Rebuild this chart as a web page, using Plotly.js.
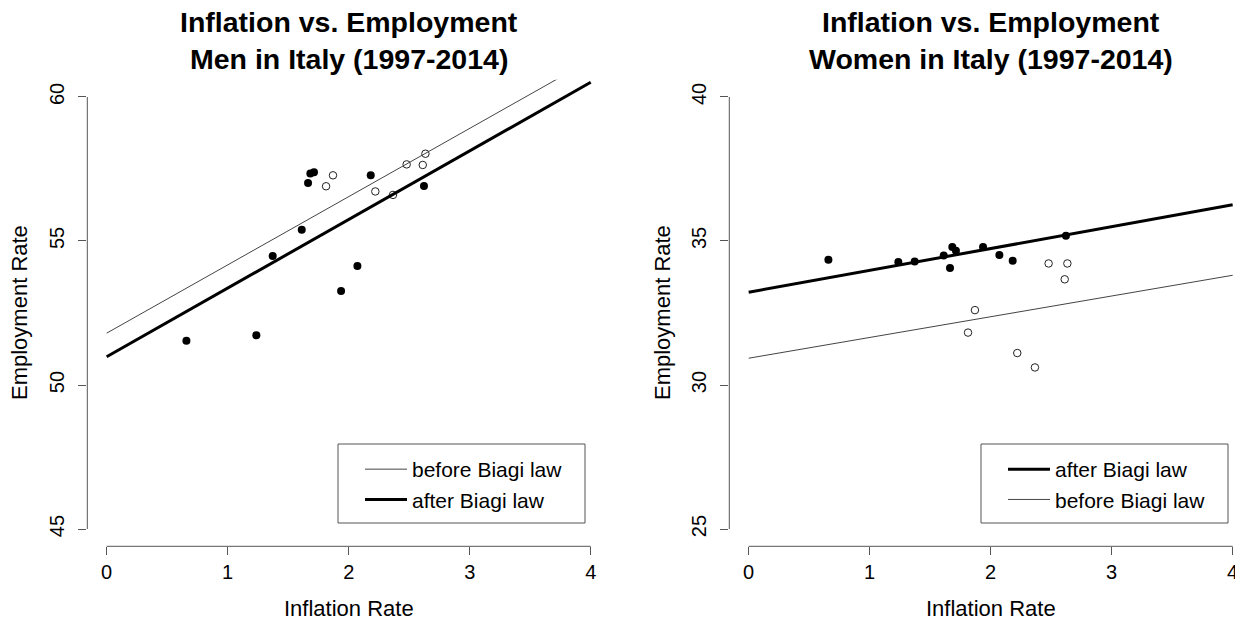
<!DOCTYPE html>
<html>
<head>
<meta charset="utf-8">
<script src="https://cdn.plot.ly/plotly-3.0.1.min.js"></script>
<style>html,body{margin:0;padding:0;background:#fff;}#chart{width:1235px;height:620px;}</style>
</head>
<body>
<div id="chart"></div>
<script>
// ---- data ----
const xTicks = [0, 1, 2, 3, 4];
const menYTicks = [45, 50, 55, 60];
const womenYTicks = [25, 30, 35, 40];

// inflation rate, before Biagi law (1997-2003) and after (2004-2014)
const inflBefore = [1.813, 1.870, 2.220, 2.366, 2.479, 2.612, 2.634];
const inflAfter  = [0.659, 1.237, 1.372, 1.612, 1.664, 1.683, 1.713, 1.937, 2.072, 2.182, 2.622];

// employment rate, men
const menBefore = [56.90, 57.28, 56.72, 56.60, 57.66, 57.64, 58.03];
const menAfter  = [51.54, 51.73, 54.48, 55.39, 57.01, 57.34, 57.39, 53.26, 54.13, 57.28, 56.91];

// employment rate, women
const womenBefore = [31.82, 32.60, 31.11, 30.61, 34.22, 33.67, 34.22];
const womenAfter  = [34.35, 34.27, 34.29, 34.50, 34.06, 34.79, 34.66, 34.79, 34.51, 34.31, 35.18];

// fitted lines [intercept, slope]
const menBeforeFit   = [51.80, 2.370];
const menAfterFit    = [50.98, 2.383];
const womenAfterFit  = [33.22, 0.759];
const womenBeforeFit = [30.93, 0.720];

const legendLabels = ['before Biagi law', 'after Biagi law'];
const titleLine1 = 'Inflation vs. Employment';
const menTitle = 'Men in Italy (1997-2014)';
const womenTitle = 'Women in Italy (1997-2014)';
const xLabel = 'Inflation Rate';
const yLabel = 'Employment Rate';

// ---- build ----
const FONT = 'Liberation Sans, Arial, Helvetica, sans-serif';
const lineX = [xTicks[0], xTicks[xTicks.length - 1]];
function fitY(fit) { return lineX.map(x => fit[0] + fit[1] * x); }

function pts(x, y, xa, ya, open) {
  return {
    type: 'scatter', mode: 'markers', x: x, y: y, xaxis: xa, yaxis: ya,
    showlegend: false, hoverinfo: 'x+y',
    marker: open
      ? {symbol: 'circle-open', size: 7.5, color: '#222', line: {width: 1, color: '#222'}}
      : {symbol: 'circle', size: 8, color: '#000', line: {width: 0}}
  };
}
function fitLine(fit, xa, ya, thick, name, legend) {
  return {
    type: 'scatter', mode: 'lines', x: lineX, y: fitY(fit), xaxis: xa, yaxis: ya,
    name: name, legend: legend, hoverinfo: 'skip',
    line: thick ? {color: '#000', width: 3} : {color: '#444', width: 1}
  };
}

const traces = [
  pts(inflBefore, menBefore, 'x', 'y', true),
  pts(inflAfter, menAfter, 'x', 'y', false),
  fitLine(menBeforeFit, 'x', 'y', false, legendLabels[0], 'legend'),
  fitLine(menAfterFit, 'x', 'y', true, legendLabels[1], 'legend'),
  pts(inflBefore, womenBefore, 'x2', 'y2', true),
  pts(inflAfter, womenAfter, 'x2', 'y2', false),
  fitLine(womenAfterFit, 'x2', 'y2', true, legendLabels[1], 'legend2'),
  fitLine(womenBeforeFit, 'x2', 'y2', false, legendLabels[0], 'legend2')
];

const W = 1235, H = 620;
const px = v => v / W, py = v => 1 - v / H;

const tickFont = {family: FONT, size: 20, color: '#000'};
function xAxis(domain, range) {
  return {
    domain: domain, range: range, tickvals: xTicks, ticktext: xTicks.map(String),
    ticks: 'outside', ticklen: 8, tickwidth: 1, tickcolor: '#555',
    showline: false, showgrid: false, zeroline: false, tickfont: tickFont,
    ticklabelstandoff: 0, ticklabeloverflow: 'allow', fixedrange: true
  };
}
function yAxis(domain, range, anchor, ticks) {
  return {
    domain: domain, range: range, tickvals: ticks, ticktext: ticks.map(String), anchor: anchor,
    ticks: 'outside', ticklen: 8, tickwidth: 1, tickcolor: '#555', tickangle: -90,
    showline: false, showgrid: false, zeroline: false, tickfont: tickFont,
    ticklabelstandoff: 6, ticklabeloverflow: 'allow', fixedrange: true
  };
}

const yDom = [1 - 546.3 / H, 1 - 79.7 / H];
const axisLineStyle = {color: '#555', width: 1};
function axisShapes(xa, ya, yt) {
  return [
    {type: 'line', xref: xa, yref: ya + ' domain', x0: xTicks[0], x1: xTicks[xTicks.length - 1], y0: 0, y1: 0, line: axisLineStyle},
    {type: 'line', xref: xa + ' domain', yref: ya, x0: 0, x1: 0, y0: yt[0], y1: yt[yt.length - 1], line: axisLineStyle}
  ];
}
function legendBox(x0, x1, y0, y1) {
  return {type: 'rect', xref: 'paper', yref: 'paper', x0: px(x0), x1: px(x1), y0: py(y1), y1: py(y0),
          line: {color: '#555', width: 1}, fillcolor: 'rgba(0,0,0,0)'};
}

const leftCx = (87.3 + 610.1) / 2, rightCx = (729.3 + 1252.1) / 2;
function ann(text, x, y, size, bold, angle) {
  return {text: bold ? '<b>' + text + '</b>' : text, xref: 'paper', yref: 'paper', x: px(x), y: py(y),
          xanchor: 'center', yanchor: 'middle', showarrow: false, textangle: angle || 0,
          font: {family: FONT, size: size, color: '#000'}};
}

const legendCommon = {
  bgcolor: 'rgba(0,0,0,0)', borderwidth: 0, font: {family: FONT, size: 21, color: '#000'},
  xanchor: 'left', yanchor: 'top', itemwidth: 42, tracegroupgap: 0, traceorder: 'normal'
};

const TS = 28.5;
const layout = {
  width: W, height: H, margin: {l: 0, r: 0, t: 0, b: 0},
  paper_bgcolor: '#fff', plot_bgcolor: '#fff', showlegend: true,
  xaxis: xAxis([87.3 / W, 610.1 / W], [-0.16, 4.16]),
  yaxis: yAxis(yDom, [44.4, 60.6], 'x', menYTicks),
  xaxis2: Object.assign(xAxis([729.3 / W, 1], [-0.16, -0.16 + 505.7 / 121.0]), {anchor: 'y2'}),
  yaxis2: yAxis(yDom, [24.4, 40.6], 'x2', womenYTicks),
  legend: Object.assign({x: px(360), y: py(449)}, legendCommon),
  legend2: Object.assign({x: px(1003), y: py(449)}, legendCommon),
  shapes: [].concat(axisShapes('x', 'y', menYTicks), axisShapes('x2', 'y2', womenYTicks),
                    [legendBox(338, 585, 444, 523), legendBox(981, 1228, 444, 523)]),
  annotations: [
    ann(titleLine1, leftCx, 22, TS, true), ann(menTitle, leftCx, 59, TS, true),
    ann(titleLine1, rightCx, 22, TS, true), ann(womenTitle, rightCx, 59, TS, true),
    ann(xLabel, leftCx, 608, 22), ann(xLabel, rightCx, 608, 22),
    ann(yLabel, 19, 313, 22, false, -90), ann(yLabel, 662, 313, 22, false, -90)
  ]
};

Plotly.newPlot('chart', traces, layout, {displayModeBar: false, staticPlot: true});
</script>
</body>
</html>
